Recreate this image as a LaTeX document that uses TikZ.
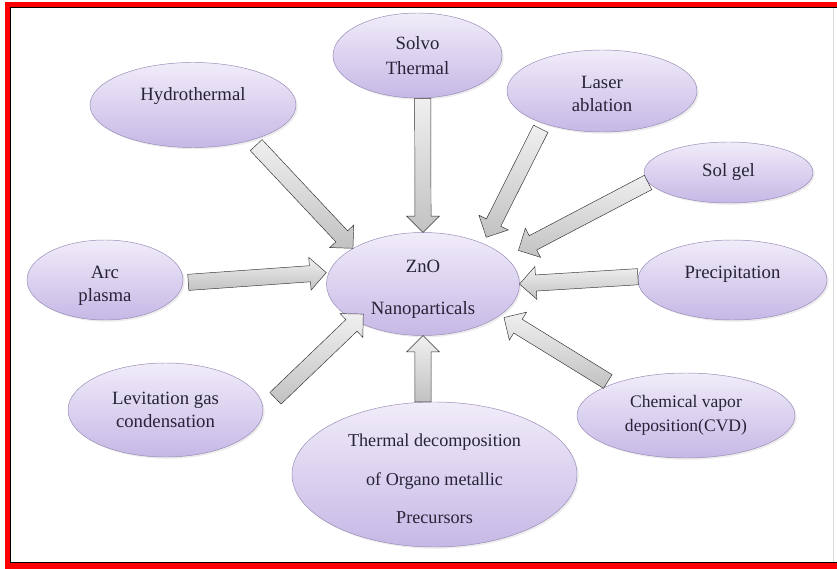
\documentclass[tikz,border=0pt]{standalone}
\usepackage{fontspec}
\setmainfont{Liberation Serif}
\usetikzlibrary{shapes.geometric,shapes.arrows,calc,shadows}
\definecolor{lavtop}{RGB}{241,236,249}
\definecolor{lavbot}{RGB}{198,184,230}
\definecolor{lavline}{RGB}{150,138,180}
\definecolor{inkc}{RGB}{40,35,55}
% block arrow from #1 to #2, pulled back by #3 at the tail and #4 at the tip
\newcommand{\feed}[4]{%
  \path let \p1=($(#1)!#3!(#2)$), \p2=($(#2)!#4!(#1)$),
    \n1={atan2(\y2-\y1,\x2-\x1)}, \n2={veclen(\x2-\x1,\y2-\y1)} in
    node[barrow, anchor=tail, rotate=\n1, minimum height=\n2] at (\p1) {};}

\begin{document}
\begin{tikzpicture}[x=0.03cm, y=-0.03cm,
  meth/.style={ellipse, draw=lavline, top color=lavtop, bottom color=lavbot,
    align=center, inner sep=0pt, text=inkc, font=\fontsize{16}{19.6}\selectfont,
    drop shadow={opacity=0.15, shadow xshift=1.5pt, shadow yshift=-1.5pt}},
  barrow/.style={single arrow, draw=black!80, top color=gray!12, bottom color=gray!48,
    inner xsep=0pt, inner ysep=0.235cm, single arrow head extend=0.25cm,
    single arrow tip angle=90}]
\useasboundingbox (0,0) rectangle (837,569);
\clip (0,0) rectangle (837,569);
% frame
\draw[red, line width=0.165cm] (837,4.5) -- (7.5,4.5) -- (7.5,566) -- (837,566);
\draw[line width=0.03cm] (837,8) -- (10.5,8) -- (10.5,562) -- (837,562);
\draw[gray!30] (833,8) -- (833,562);
% methods
\node[meth, minimum width=5.79cm, minimum height=3.09cm] (zno) at (423,284) {\mbox{}\\[-0.4pt]ZnO\\[16pt]Nanoparticals};
\node[meth, minimum width=6.18cm, minimum height=2.55cm] (hyd) at (193,105) {Hydrothermal\\\mbox{}};
\node[meth, minimum width=5.07cm, minimum height=2.55cm] (solvo) at (417.5,55.5) {Solvo\\[1.7pt]Thermal};
\node[meth, minimum width=5.7cm, minimum height=2.46cm] (laser) at (602,91) {\mbox{}\\[-3.5pt]Laser\\ablation};
\node[meth, minimum width=5.07cm, minimum height=1.83cm] (solgel) at (728.5,172.5) {Sol gel};
\node[meth, minimum width=5.67cm, minimum height=2.4cm] (precip) at (732.5,280) {Precipitation\\[-6pt]\mbox{}};
\node[meth, minimum width=6.54cm, minimum height=2.55cm, font=\fontsize{15}{18.4}\selectfont] (cvd) at (686,415.5) {Chemical vapor\\[2pt]deposition(CVD)};
\node[meth, minimum width=8.55cm, minimum height=4.35cm, font=\fontsize{15.5}{19}\selectfont] (thermal) at (434.5,474.5) {\mbox{}\\[-0.8pt]Thermal decomposition\\[14pt]of Organo metallic\\[14pt]Precursors};
\node[meth, minimum width=5.85cm, minimum height=2.82cm] (levit) at (165.5,410) {Levitation gas\\condensation};
\node[meth, minimum width=4.68cm, minimum height=2.4cm] (arc) at (105,280) {\mbox{}\\[1.2pt]Arc\\plasma};
% arrows into the centre
\feed{hyd.-31.5}{zno.153.3}{0.195cm}{0cm}
\feed{solvo.-83.3}{zno.north}{0cm}{0cm}
\feed{laser.-151.7}{zno.34.7}{0.17cm}{0.21cm}
\feed{solgel.187}{zno.18.2}{0cm}{0.44cm}
\feed{precip.178.2}{zno.east}{0cm}{0cm}
\feed{arc.-2.4}{zno.173.2}{0.15cm}{0.08cm}
\feed{levit.east}{zno.209.2}{0.5cm}{-0.315cm}
\feed{thermal.99}{zno.south}{0cm}{0cm}
\feed{cvd.157.4}{zno.-22.6}{0.14cm}{0.135cm}
\end{tikzpicture}
\end{document}
